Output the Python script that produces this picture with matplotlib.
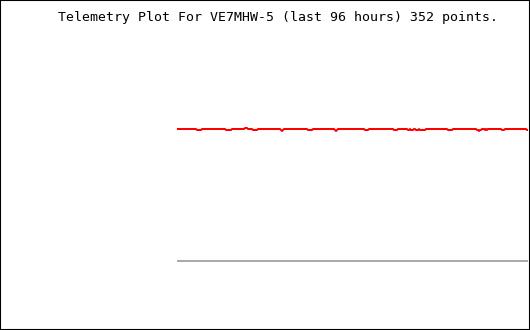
import matplotlib
matplotlib.use('Agg')
import matplotlib.pyplot as plt
from matplotlib.patches import Rectangle

title = 'Telemetry Plot For VE7MHW-5 (last 96 hours) 352 points.'

# red channel, stored as (value, run length)
red_runs = [(132, 20), (131, 5), (132, 24), (131, 6), (132, 13), (133, 3),
            (132, 5), (131, 5), (132, 23), (131, 1), (130, 1), (131, 1),
            (132, 24), (131, 5), (132, 22), (131, 1), (130, 1), (131, 1),
            (132, 27), (131, 4), (132, 25), (131, 4), (132, 10), (131, 2),
            (132, 1), (131, 3), (132, 2), (131, 3), (132, 1), (131, 6),
            (132, 22), (131, 5), (132, 24), (131, 2), (130, 1), (131, 2),
            (132, 3), (131, 1), (132, 1), (131, 1), (132, 14), (131, 3),
            (132, 22), (131, 2)]
# gray channel sits flat at zero
gray_runs = [(0, 352)]

red = [v for v, n in red_runs for _ in range(n)]
gray = [v for v, n in gray_runs for _ in range(n)]
x = list(range(len(red)))

fig = plt.figure(figsize=(5.3, 3.3), dpi=100)
ax = fig.add_axes([0, 0, 1, 1])
ax.set_axis_off()

ax.plot(x, gray, color='#aaaaaa', lw=1.44, solid_capstyle='butt')
ax.plot(x, red, color='#ff0000', lw=1.44, solid_capstyle='butt')

ax.set_xlim(-177, 353)
ax.set_ylim(-69, 261)

fig.text(278.5 / 530, 1 - 21.5 / 330, title, ha='center', va='baseline',
         family='DejaVu Sans Mono', fontsize=9.5, color='black')

fig.patches.append(Rectangle((0, 0), 1, 1, transform=fig.transFigure,
                             fill=False, edgecolor='black', lw=1.5))

fig.savefig('out.png', dpi=100)
